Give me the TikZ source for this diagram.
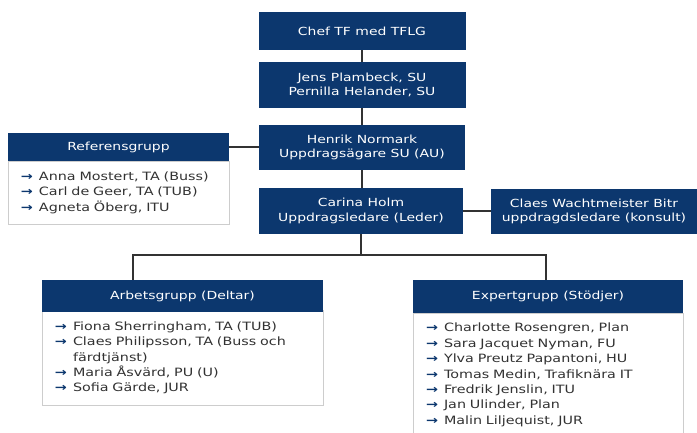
\documentclass[tikz,border=0pt]{standalone}
\usepackage{fontspec}
\setmainfont{DejaVu Sans}[FakeStretch=1.25]
\definecolor{tfnavy}{RGB}{12,55,110}
\definecolor{listgray}{RGB}{205,205,205}
\definecolor{linkgray}{RGB}{50,50,50}
\definecolor{bodytext}{RGB}{50,50,50}
\newcommand{\pil}{\textcolor{tfnavy}{\bfseries →}}
\begin{document}
\begin{tikzpicture}[x=1bp,y=-1bp,
  orgbox/.style={fill=tfnavy,text=white,align=center,inner sep=0pt,
    font=\fontsize{11.2}{14.5}\selectfont},
  listbox/.style={draw=listgray,fill=white,text=bodytext,inner ysep=0pt,inner xsep=13bp,
    font=\fontsize{11.5}{15.5}\selectfont},
  link/.style={draw=linkgray,line width=1.8bp}]
\clip (0,0) rectangle (697,432);
%%
  % Node: Chef
  \node[orgbox,minimum width=207bp,minimum height=38bp] (chef) at (362,31) {Chef TF med TFLG};
  % Node: Jens
  \node[orgbox,minimum width=207bp,minimum height=46bp] (jens) at (362,85) {Jens Plambeck, SU\\Pernilla Helander, SU};
  % Node: Henrik
  \node[orgbox,minimum width=206bp,minimum height=45bp] (henrik) at (362,147.5) {Henrik Normark\\Uppdragsägare SU (AU)};
  % Node: Carina
  \node[orgbox,minimum width=204bp,minimum height=46bp] (carina) at (361,211) {Carina Holm\\Uppdragsledare (Leder)};
  % Node: Claes
  \node[orgbox,minimum width=206bp,minimum height=45bp] (claes) at (594,211.5) {Claes Wachtmeister Bitr\\uppdragdsledare (konsult)};
  % Node: Referensgrupp
  \node[listbox,minimum width=221bp,minimum height=63bp,text width=195bp] (refbody) at (118.5,192.5) {%
    \begin{tabular}{@{}l@{\hspace{6bp}}l@{}}
      \pil & Anna Mostert, TA (Buss)\\
      \pil & Carl de Geer, TA (TUB)\\
      \pil & Agneta Öberg, ITU
    \end{tabular}};
  \node[orgbox,minimum width=221bp,minimum height=28bp] (refhead) at (118.5,147) {Referensgrupp};
  % Node: Arbetsgrupp
  \node[listbox,minimum width=281bp,minimum height=95bp,text width=255bp] (arbbody) at (182.5,358) {%
    \begin{tabular}{@{}l@{\hspace{6bp}}l@{}}
      \pil & Fiona Sherringham, TA (TUB)\\
      \pil & Claes Philipsson, TA (Buss och\\
           & färdtjänst)\\
      \pil & Maria Åsvärd, PU (U)\\
      \pil & Sofia Gärde, JUR
    \end{tabular}};
  \node[orgbox,minimum width=281bp,minimum height=32bp] (arbhead) at (182.5,296) {Arbetsgrupp (Deltar)};
  % Node: Expertgrupp
  \node[listbox,minimum width=270bp,minimum height=124bp,text width=244bp] (expbody) at (548,375) {%
    \begin{tabular}{@{}l@{\hspace{6bp}}l@{}}
      \pil & Charlotte Rosengren, Plan\\
      \pil & Sara Jacquet Nyman, FU\\
      \pil & Ylva Preutz Papantoni, HU\\
      \pil & Tomas Medin, Trafiknära IT\\
      \pil & Fredrik Jenslin, ITU\\
      \pil & Jan Ulinder, Plan\\
      \pil & Malin Liljequist, JUR
    \end{tabular}};
  \node[orgbox,minimum width=270bp,minimum height=33bp] (exphead) at (548,296.5) {Expertgrupp (Stödjer)};
  % Edge: Chef -> Jens
  \draw[link] (chef.south) -- (jens.north);
  % Edge: Jens -> Henrik
  \draw[link] (jens.south) -- (henrik.north);
  % Edge: Henrik -> Carina
  \draw[link] (henrik.south) -- (henrik.south |- carina.north);
  % Edge: Referensgrupp -> Henrik
  \draw[link] (refhead.east) -- (refhead.east -| henrik.west);
  % Edge: Carina -> Claes
  \draw[link] (carina.east) -- (carina.east -| claes.west);
  % Edge: Carina -> Arbetsgrupp, Expertgrupp
  \coordinate (arbjoin) at (133,255);
  \coordinate (expjoin) at (546,255);
  \draw[link] (carina.south) -- (carina.south |- arbjoin);
  \draw[link] (arbjoin |- arbhead.north) -- (arbjoin) -- (expjoin) -- (expjoin |- exphead.north);
%
\end{tikzpicture}
\end{document}
